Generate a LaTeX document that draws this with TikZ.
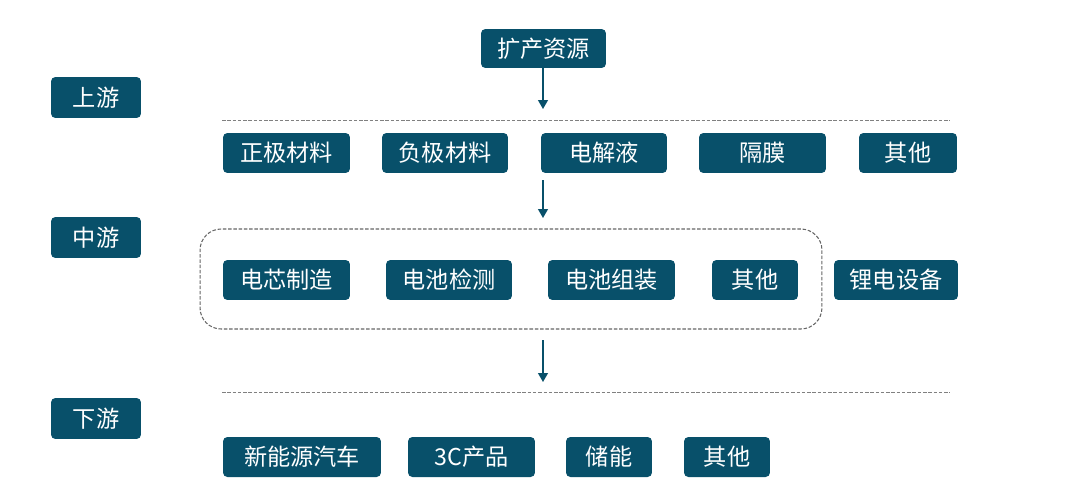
\documentclass[tikz,border=0pt]{standalone}
\usepackage{fontspec}
\setmainfont{Noto Sans CJK SC}
\usetikzlibrary{arrows.meta,positioning,fit}
\definecolor{chainblue}{RGB}{8,80,106}

\begin{document}
\begin{tikzpicture}[x=0.02cm,y=-0.02cm,
    box/.style={rectangle,rounded corners=2.5pt,fill=chainblue,text=white,
      minimum height=0.8cm,inner sep=0pt,font=\fontsize{13.2}{15}\selectfont},
    tier/.style={box,minimum width=1.8cm,minimum height=0.82cm},
    flow/.style={chainblue,line width=0.9pt,-{Triangle[length=5pt,width=5.5pt]}},
    sep/.style={gray,dashed,dash pattern=on 2pt off 1pt,line width=0.5pt}]
      \useasboundingbox (0,0) rectangle (1080,504);

      % Tiers
      \node[tier] (up) at (96,97.5) {上游};
      \node[tier] (mid) at (96,237.5) {中游};
      \node[tier] (down) at (96,418.5) {下游};

      % Upstream
      \node[box,minimum width=2.5cm,minimum height=0.78cm] (kzzy) at (543.5,48.5) {扩产资源};
      \node[box,minimum width=2.54cm] (zjcl) at (286.5,153) {正极材料};
      \node[box,minimum width=2.52cm] (fjcl) at (445,153) {负极材料};
      \node[box,minimum width=2.52cm] (djy) at (604,153) {电解液};
      \node[box,minimum width=2.54cm] (gm) at (762.5,153) {隔膜};
      \node[box,minimum width=1.96cm] (qt1) at (908,153) {其他};

      % Midstream
      \node[box,minimum width=2.54cm] (dxzz) at (286.5,280) {电芯制造};
      \node[box,minimum width=2.52cm] (dcjc) at (449,280) {电池检测};
      \node[box,minimum width=2.54cm] (dczz) at (611.5,280) {电池组装};
      \node[box,minimum width=1.72cm] (qt2) at (755,280) {其他};
      \node[box,minimum width=2.48cm] (ldsb) at (896,280) {锂电设备};
      \node[draw=gray!80!black,dashed,dash pattern=on 2pt off 1pt,rounded corners=12pt,
        line width=0.6pt,minimum width=12.44cm,minimum height=2cm] (midgrp) at (511,279) {};

      % Downstream
      \node[box,minimum width=3.16cm] (xny) at (302,457) {新能源汽车};
      \node[box,minimum width=2.54cm] (cp) at (471.5,457) {3C产品};
      \node[box,minimum width=1.72cm] (cn) at (609,457) {储能};
      \node[box,minimum width=1.72cm] (qt3) at (727,457) {其他};

      % Separators
      \draw[sep] (222,120) -- (950,120);
      \draw[sep] (222,392) -- (950,392);

      % Flow arrows
      \coordinate (a1) at (543,109);
      \coordinate (a2) at (543,218);
      \coordinate (a3) at (543,382);
      \draw[flow] (kzzy.south -| a1) -- (a1);
      \draw[flow,shorten <=4pt] (djy.south -| a2) -- (a2);
      \draw[flow,shorten <=6pt] (midgrp.south -| a3) -- (a3);
\end{tikzpicture}
\end{document}
